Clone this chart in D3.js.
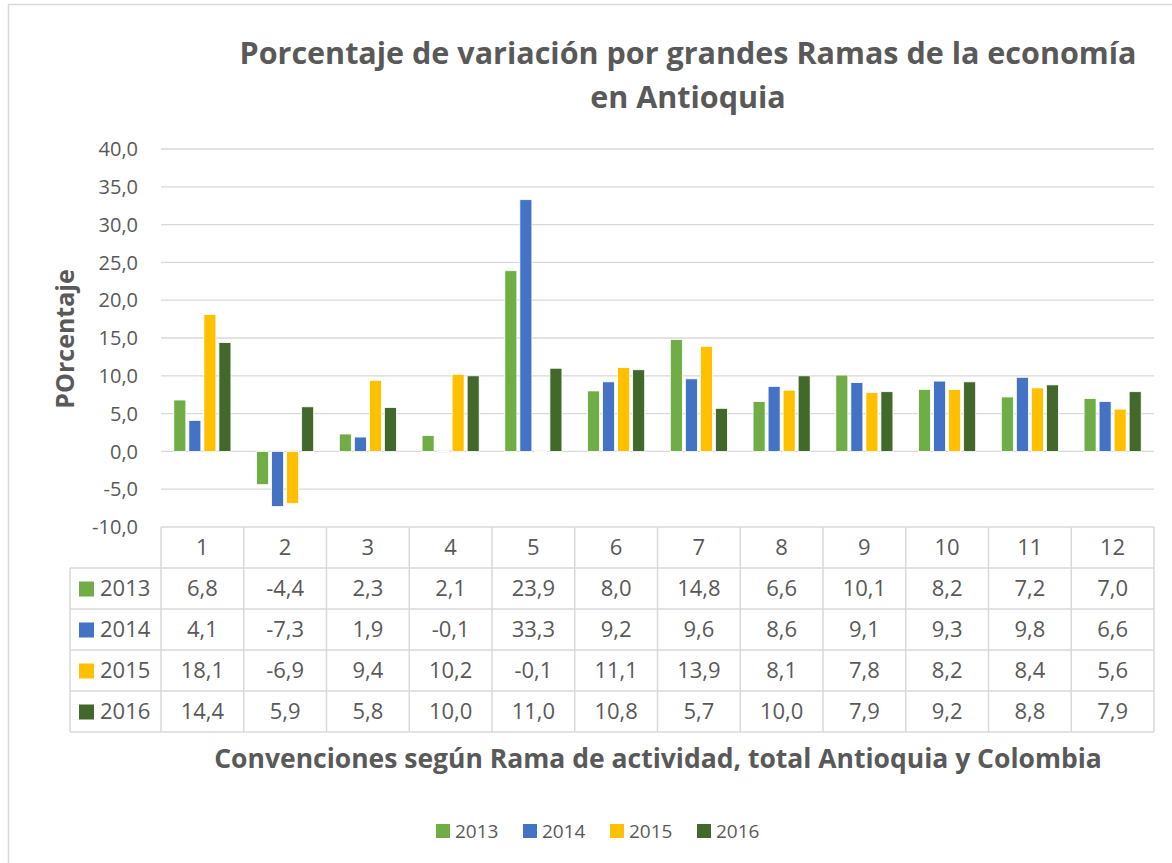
<!DOCTYPE html>
<html>
<head>
<meta charset="utf-8">
<script src="https://cdn.jsdelivr.net/npm/d3@7"></script>
<style>
  body { margin: 0; background: #fff; }
  text { font-family: "Open Sans", "Liberation Sans", sans-serif; fill: #595959; }
</style>
</head>
<body>
<div class="chart"></div>
<script>
// data
var categories = ["1", "2", "3", "4", "5", "6", "7", "8", "9", "10", "11", "12"];
var seriesNames = ["2013", "2014", "2015", "2016"];
var values2013 = [6.8, -4.4, 2.3, 2.1, 23.9, 8.0, 14.8, 6.6, 10.1, 8.2, 7.2, 7.0];
var values2014 = [4.1, -7.3, 1.9, -0.1, 33.3, 9.2, 9.6, 8.6, 9.1, 9.3, 9.8, 6.6];
var values2015 = [18.1, -6.9, 9.4, 10.2, -0.1, 11.1, 13.9, 8.1, 7.8, 8.2, 8.4, 5.6];
var values2016 = [14.4, 5.9, 5.8, 10.0, 11.0, 10.8, 5.7, 10.0, 7.9, 9.2, 8.8, 7.9];
var yTicks = [-10, -5, 0, 5, 10, 15, 20, 25, 30, 35, 40];
var colors = ["#70AD47", "#4472C4", "#FFC000", "#43682B"];

var allValues = [values2013, values2014, values2015, values2016];

var width = 1172, height = 863;
var plot = { left: 161, right: 1154, top: 149, bottom: 527 };
var rowH = 41;

var svg = d3.select(".chart").append("svg")
  .attr("width", width)
  .attr("height", height);

// outer chart border
svg.append("rect")
  .attr("x", 8.5).attr("y", 4.5)
  .attr("width", width + 10).attr("height", height + 10)
  .attr("fill", "none")
  .attr("stroke", "#d9d9d9")
  .attr("stroke-width", 1.5);

var fmt = function(v) { return d3.format(".1f")(v).replace(".", ",").replace("−", "-"); };

var x0 = d3.scaleBand().domain(categories).range([plot.left, plot.right]);
var bw = x0.bandwidth();
var x1 = d3.scaleBand().domain(seriesNames)
  .range([bw * 0.155, bw * 0.845])
  .paddingInner(0.2);
var y = d3.scaleLinear().domain([-10, 40]).range([plot.bottom, plot.top]);

// gridlines
svg.append("g").selectAll("line")
  .data(yTicks.filter(function(d) { return d > -10; }))
  .enter().append("line")
  .attr("x1", plot.left).attr("x2", plot.right)
  .attr("y1", function(d) { return y(d); })
  .attr("y2", function(d) { return y(d); })
  .attr("stroke", "#d9d9d9")
  .attr("stroke-width", 1.3);

// y tick labels
svg.append("g").selectAll("text")
  .data(yTicks)
  .enter().append("text")
  .attr("x", 138)
  .attr("y", function(d) { return y(d); })
  .attr("dy", "0.36em")
  .attr("text-anchor", "end")
  .style("font-size", "20px")
  .text(fmt);

// bars
var groups = svg.append("g").selectAll("g")
  .data(categories)
  .enter().append("g")
  .attr("transform", function(d) { return "translate(" + x0(d) + ",0)"; });

groups.selectAll("rect")
  .data(function(d, i) {
    return seriesNames.map(function(s, j) { return { s: s, j: j, v: allValues[j][i] }; });
  })
  .enter().append("rect")
  .attr("x", function(d) { return x1(d.s); })
  .attr("width", x1.bandwidth())
  .attr("y", function(d) { return y(Math.max(0, d.v)); })
  .attr("height", function(d) { return Math.abs(y(d.v) - y(0)); })
  .attr("fill", function(d) { return colors[d.j]; })
  .attr("stroke", "#ffffff")
  .attr("stroke-width", 0.8);

// data table
var table = svg.append("g");
var tableLeft = 70;
var nRows = seriesNames.length;
var lineColor = "#d9d9d9";

// horizontal lines
table.append("line")
  .attr("x1", plot.left).attr("x2", plot.right)
  .attr("y1", plot.bottom).attr("y2", plot.bottom)
  .attr("stroke", lineColor).attr("stroke-width", 1.5);
d3.range(1, nRows + 2).forEach(function(r) {
  table.append("line")
    .attr("x1", tableLeft).attr("x2", plot.right)
    .attr("y1", plot.bottom + r * rowH).attr("y2", plot.bottom + r * rowH)
    .attr("stroke", lineColor).attr("stroke-width", 1.5);
});
// vertical lines
table.append("line")
  .attr("x1", tableLeft).attr("x2", tableLeft)
  .attr("y1", plot.bottom + rowH).attr("y2", plot.bottom + (nRows + 1) * rowH)
  .attr("stroke", lineColor).attr("stroke-width", 1.5);
categories.concat(["end"]).forEach(function(c, i) {
  var xx = i < categories.length ? x0(c) : plot.right;
  table.append("line")
    .attr("x1", xx).attr("x2", xx)
    .attr("y1", plot.bottom).attr("y2", plot.bottom + (nRows + 1) * rowH)
    .attr("stroke", lineColor).attr("stroke-width", 1.5);
});

// header row
table.selectAll("text.cat")
  .data(categories)
  .enter().append("text")
  .attr("class", "cat")
  .attr("x", function(d) { return x0(d) + bw / 2; })
  .attr("y", plot.bottom + rowH / 2)
  .attr("dy", "0.36em")
  .attr("text-anchor", "middle")
  .style("font-size", "22px")
  .text(function(d) { return d; });

// series rows
seriesNames.forEach(function(s, j) {
  var ry = plot.bottom + (j + 1) * rowH;
  table.append("rect")
    .attr("x", 79).attr("y", ry + rowH / 2 - 7)
    .attr("width", 15).attr("height", 15)
    .attr("fill", colors[j]);
  table.append("text")
    .attr("x", 100).attr("y", ry + rowH / 2)
    .attr("dy", "0.36em")
    .style("font-size", "22px")
    .text(s);
  table.selectAll("text.v" + j)
    .data(allValues[j])
    .enter().append("text")
    .attr("class", "v" + j)
    .attr("x", function(d, i) { return x0(categories[i]) + bw / 2; })
    .attr("y", ry + rowH / 2)
    .attr("dy", "0.36em")
    .attr("text-anchor", "middle")
    .style("font-size", "22px")
    .text(fmt);
});

// titles
svg.append("text")
  .attr("x", 688).attr("y", 64)
  .attr("text-anchor", "middle")
  .style("font-size", "30.5px").style("font-weight", "bold")
  .text("Porcentaje de variación por grandes Ramas de la economía");
svg.append("text")
  .attr("x", 688).attr("y", 108)
  .attr("text-anchor", "middle")
  .style("font-size", "30.5px").style("font-weight", "bold")
  .text("en Antioquia");

svg.append("text")
  .attr("transform", "translate(74," + ((plot.top + plot.bottom) / 2 + 1) + ") rotate(-90)")
  .attr("text-anchor", "middle")
  .style("font-size", "25px").style("font-weight", "bold")
  .text("POrcentaje");

svg.append("text")
  .attr("x", 658).attr("y", 768)
  .attr("text-anchor", "middle")
  .style("font-size", "26.5px").style("font-weight", "bold")
  .text("Convenciones según Rama de actividad, total Antioquia y Colombia");

// legend
var legend = svg.append("g").attr("id", "legend");
seriesNames.forEach(function(s, j) {
  var lx = 436 + j * 87;
  legend.append("rect")
    .attr("x", lx).attr("y", 824)
    .attr("width", 14).attr("height", 14)
    .attr("fill", colors[j]);
  legend.append("text")
    .attr("x", lx + 19).attr("y", 831)
    .attr("dy", "0.36em")
    .style("font-size", "19px")
    .text(s);
});
</script>
</body>
</html>
